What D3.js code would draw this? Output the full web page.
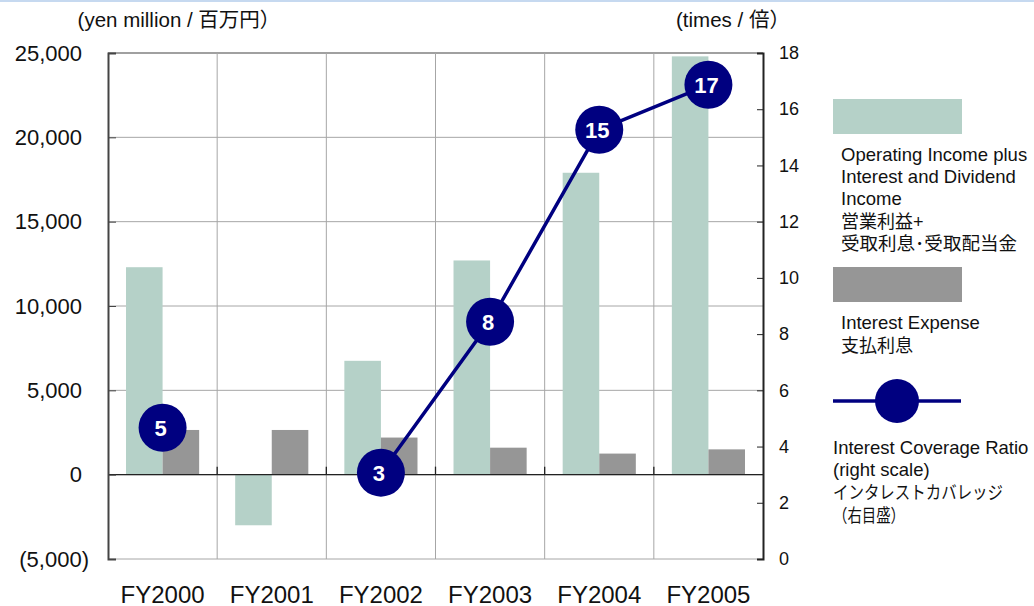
<!DOCTYPE html>
<html>
<head>
<meta charset="utf-8">
<script src="https://cdn.jsdelivr.net/npm/d3@7"></script>
<style>
  body { margin: 0; background: #fff; }
  svg text { font-family: Arial, "Liberation Sans", "Noto Sans CJK JP", sans-serif; fill: #111; }
</style>
</head>
<body>
<svg id="chart" width="1034" height="606"></svg>
<script>
// Data
const years = ["FY2000", "FY2001", "FY2002", "FY2003", "FY2004", "FY2005"];
const operatingIncome = [12300, -3000, 6750, 12700, 17900, 24800];
const interestExpense = [2650, 2650, 2200, 1600, 1250, 1500];
const coverageRatio = [4.67, null, 3.07, 8.44, 15.27, 16.87];
const coverageLabels = ["5", "", "3", "8", "15", "17"];
const leftTicks = [-5000, 0, 5000, 10000, 15000, 20000, 25000];
const rightTicks = [0, 2, 4, 6, 8, 10, 12, 14, 16, 18];

const svg = d3.select("#chart"),
    margin = { top: 53, right: 271, bottom: 47, left: 108 },
    width = +svg.attr("width") - margin.left - margin.right,
    height = +svg.attr("height") - margin.top - margin.bottom;

const green = "#b5d1c8", grey = "#969696", navy = "#000080";

// thin blue rule across the top of the page
svg.append("line")
    .attr("x1", 0).attr("x2", 1034).attr("y1", 1).attr("y2", 1)
    .attr("stroke", "#c6d9f0").attr("stroke-width", 2);

const g = svg.append("g")
    .attr("transform", `translate(${margin.left},${margin.top})`);

const x0 = d3.scaleBand().domain(years).range([0, width]);
const x1 = d3.scaleBand().domain(["op", "int"])
    .range([x0.bandwidth() * 0.165, x0.bandwidth() * 0.835]);
const y = d3.scaleLinear().domain([-5000, 25000]).range([height, 0]);
const y2 = d3.scaleLinear().domain([0, 18]).range([height, 0]);

// horizontal gridlines
g.selectAll("line.hgrid")
    .data(leftTicks)
    .enter().append("line")
    .attr("class", "hgrid")
    .attr("x1", 0).attr("x2", width)
    .attr("y1", d => y(d)).attr("y2", d => y(d))
    .attr("stroke", d => d === 25000 ? "#808080" : "#a6a6a6")
    .attr("stroke-width", d => d === 25000 ? 1.5 : 1);

// vertical gridlines between categories
g.selectAll("line.vgrid")
    .data(years.slice(1))
    .enter().append("line")
    .attr("class", "vgrid")
    .attr("x1", d => x0(d)).attr("x2", d => x0(d))
    .attr("y1", 0).attr("y2", height)
    .attr("stroke", "#a6a6a6");

// bars
const groups = g.selectAll("g.year")
    .data(years)
    .enter().append("g")
    .attr("class", "year")
    .attr("transform", d => `translate(${x0(d)},0)`);

groups.append("rect")
    .attr("x", x1("op"))
    .attr("width", x1.bandwidth())
    .attr("y", (d, i) => y(Math.max(0, operatingIncome[i])))
    .attr("height", (d, i) => Math.abs(y(operatingIncome[i]) - y(0)))
    .attr("fill", green);

groups.append("rect")
    .attr("x", x1("int"))
    .attr("width", x1.bandwidth())
    .attr("y", (d, i) => y(Math.max(0, interestExpense[i])))
    .attr("height", (d, i) => Math.abs(y(interestExpense[i]) - y(0)))
    .attr("fill", grey);

// zero line with category ticks
g.append("line")
    .attr("x1", 0).attr("x2", width)
    .attr("y1", y(0)).attr("y2", y(0))
    .attr("stroke", "#222").attr("stroke-width", 1.3);
g.selectAll("line.ctick")
    .data(years.slice(1))
    .enter().append("line")
    .attr("class", "ctick")
    .attr("x1", d => x0(d)).attr("x2", d => x0(d))
    .attr("y1", y(0) - 8).attr("y2", y(0))
    .attr("stroke", "#222").attr("stroke-width", 1.3);

// left axis (negative numbers in accounting style, bracket hangs right)
const leftAxis = g.append("g")
    .call(d3.axisLeft(y).tickValues(leftTicks).tickSize(-8).tickPadding(26)
        .tickFormat(d => d < 0 ? `(${d3.format(",")(-d)})` : d3.format(",")(d)));
leftAxis.select(".domain").attr("stroke", "#444").attr("stroke-width", 2);
leftAxis.selectAll(".tick line").attr("stroke", "#444");
leftAxis.selectAll("text")
    .style("font-size", "22px").attr("fill", "#111")
    .attr("dx", d => d < 0 ? 7 : 0);

// right axis
const rightAxis = g.append("g")
    .attr("transform", `translate(${width},0)`)
    .call(d3.axisRight(y2).tickValues(rightTicks).tickSize(-6).tickPadding(16));
rightAxis.select(".domain").attr("stroke", "#222").attr("stroke-width", 2);
rightAxis.selectAll(".tick line").attr("stroke", "#222");
rightAxis.selectAll("text").style("font-size", "18px").attr("fill", "#111");

// category labels
g.selectAll("text.cat")
    .data(years)
    .enter().append("text")
    .attr("class", "cat")
    .attr("x", d => x0(d) + x0.bandwidth() / 2)
    .attr("y", height + 44)
    .attr("text-anchor", "middle")
    .style("font-size", "24px")
    .text(d => d);

// coverage ratio line
const pts = years.map((d, i) => ({ year: d, v: coverageRatio[i], label: coverageLabels[i] }))
    .filter(d => d.v !== null);
const line = d3.line()
    .defined(d => d.v !== null)
    .x(d => x0(d.year) + x0.bandwidth() / 2)
    .y(d => y2(d.v));
g.append("path")
    .datum(years.map((d, i) => ({ year: d, v: coverageRatio[i] })))
    .attr("d", line)
    .attr("fill", "none")
    .attr("stroke", navy)
    .attr("stroke-width", 3.5);

g.selectAll("circle.pt")
    .data(pts)
    .enter().append("circle")
    .attr("class", "pt")
    .attr("cx", d => x0(d.year) + x0.bandwidth() / 2)
    .attr("cy", d => y2(d.v))
    .attr("r", 24)
    .attr("fill", navy);

g.selectAll("text.ptlabel")
    .data(pts)
    .enter().append("text")
    .attr("class", "ptlabel")
    .attr("x", d => x0(d.year) + x0.bandwidth() / 2 - 2)
    .attr("y", d => y2(d.v) + 8)
    .attr("text-anchor", "middle")
    .style("font-size", "22px")
    .style("font-weight", "bold")
    .style("fill", "#fff")
    .text(d => d.label);

// axis unit titles
svg.append("text")
    .attr("x", 179).attr("y", 27)
    .attr("text-anchor", "middle")
    .style("font-size", "20.5px")
    .text("(yen million / 百万円）");
svg.append("text")
    .attr("x", 733).attr("y", 27)
    .attr("text-anchor", "middle")
    .style("font-size", "20.5px")
    .text("(times / 倍）");

// legend
const legend = svg.append("g");
legend.append("rect")
    .attr("x", 833).attr("y", 99).attr("width", 129).attr("height", 35)
    .attr("fill", green);
legend.append("rect")
    .attr("x", 833).attr("y", 267).attr("width", 129).attr("height", 35)
    .attr("fill", grey);
legend.append("line")
    .attr("x1", 833).attr("x2", 961).attr("y1", 401).attr("y2", 401)
    .attr("stroke", navy).attr("stroke-width", 3.5);
legend.append("circle")
    .attr("cx", 897).attr("cy", 401).attr("r", 22)
    .attr("fill", navy);

const legendText = [
    { x: 841, y: 161, s: 18.5, t: "Operating Income plus" },
    { x: 841, y: 183, s: 18.5, t: "Interest and Dividend" },
    { x: 841, y: 205, s: 18.5, t: "Income" },
    { x: 841, y: 228, s: 18, t: "営業利益+" },
    { x: 841, y: 250, s: 18, t: "受取利息･受取配当金", w: 176 },
    { x: 841, y: 329, s: 18.5, t: "Interest Expense" },
    { x: 841, y: 352, s: 18, t: "支払利息" },
    { x: 833, y: 454, s: 18.5, t: "Interest Coverage Ratio" },
    { x: 833, y: 476, s: 18.5, t: "(right scale)" },
    { x: 833, y: 499, s: 18, t: "インタレストカバレッジ", w: 170 },
    { x: 833, y: 522, s: 18, t: "（右目盛）", w: 72 }
];
legend.selectAll("text")
    .data(legendText)
    .enter().append("text")
    .attr("x", d => d.x).attr("y", d => d.y)
    .attr("textLength", d => d.w || null)
    .attr("lengthAdjust", d => d.w ? "spacingAndGlyphs" : null)
    .style("font-size", d => d.s + "px")
    .text(d => d.t);
</script>
</body>
</html>
